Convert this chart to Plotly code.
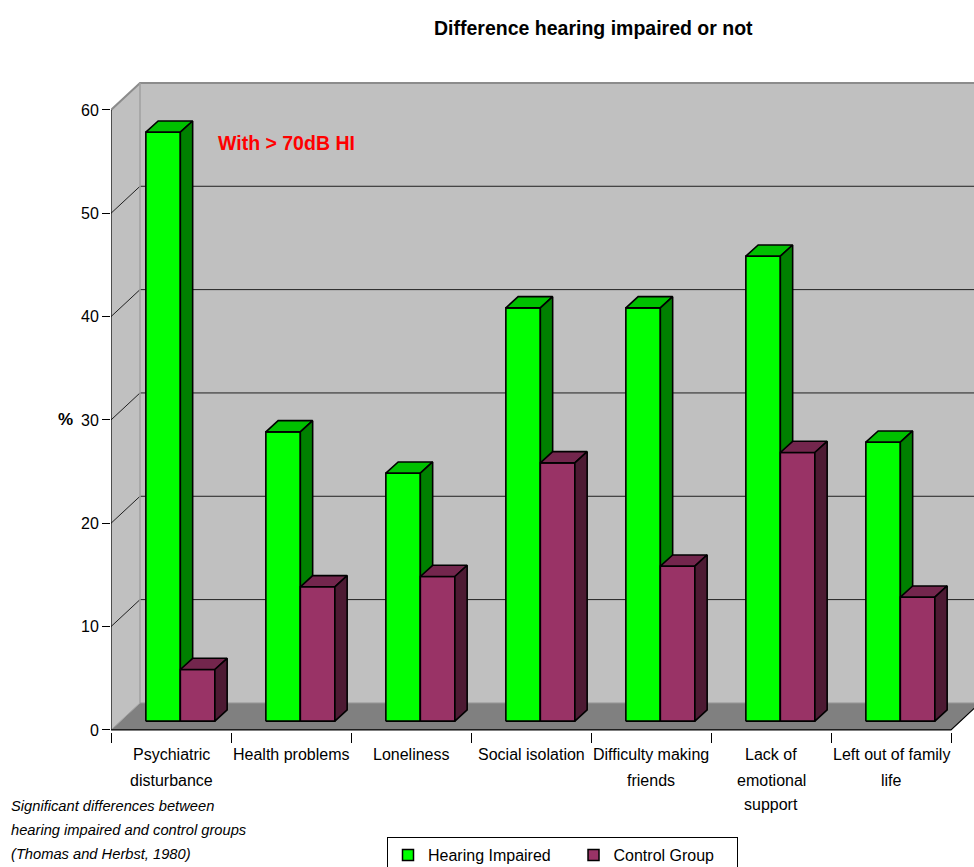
import plotly.graph_objects as go

# ---------------- data ----------------
categories = ["Psychiatric disturbance", "Health problems", "Loneliness",
              "Social isolation", "Difficulty making friends",
              "Lack of emotional support", "Left out of family life"]
category_lines = [["Psychiatric", "disturbance"], ["Health problems"], ["Loneliness"],
                  ["Social isolation"], ["Difficulty making", "friends"],
                  ["Lack of", "emotional", "support"], ["Left out of family", "life"]]
hearing_impaired = [57, 28, 24, 40, 40, 45, 27]
control_group = [5, 13, 14, 25, 15, 26, 12]
y_ticks = [0, 10, 20, 30, 40, 50, 60]
series_names = ["Hearing Impaired", "Control Group"]
footnote = ["Significant differences between",
            "hearing impaired and control groups",
            "(Thomas and Herbst, 1980)"]

# ---------------- geometry / style ----------------
FONT = "Liberation Sans, Arial, sans-serif"
W, H = 974, 867
ML, MR, MT, MB = 111, 0, 80, 135
PW, PH = W - ML - MR, H - MT - MB
X0, X1 = -0.5, -0.5 + PW / 120.0
Y0, Y1 = -0.2, -0.2 + PH / 10.333

DX, DV = 29 / 120.0, 27 / 10.333          # wall depth (oblique)
BDX, BDV = 12.3 / 120.0, 11.2 / 10.333    # bar depth
BASE_V = 0.85                              # bar front plane base
GROUP_OFF = 0.078
BW = 34.5 / 120.0

WALL = "#C0C0C0"
FLOOR = "#808080"
EDGE = "#8C8C8C"
COLS = {"Hearing Impaired": ("#00FF00", "#00C000", "#008000"),
        "Control Group": ("#993366", "#73264D", "#4D1A33")}
LEGEND_PAD = {"Hearing Impaired": 4, "Control Group": 4}

n = len(categories)
xl, xr = -0.5, n - 0.5
vmax = y_ticks[-1]


def px2paper(px):
    return (px - ML) / PW


def py2paper(py):
    return (MT + PH - py) / PH


fig = go.Figure()


def poly(xs, ys, fill, line_color=None, lw=0):
    fig.add_trace(go.Scatter(
        x=list(xs) + [xs[0]], y=list(ys) + [ys[0]], mode="lines", fill="toself",
        fillcolor=fill, line=dict(color=line_color or fill, width=lw),
        hoverinfo="skip", showlegend=False))


def seg(xs, ys, color, width=1):
    fig.add_trace(go.Scatter(x=xs, y=ys, mode="lines",
                             line=dict(color=color, width=width),
                             hoverinfo="skip", showlegend=False))


# legend-only entries
for nm in series_names:
    fig.add_trace(go.Scatter(x=[None], y=[None], mode="markers",
                             name=nm + "\u00a0" * LEGEND_PAD[nm],
                             marker=dict(symbol="square", size=11, color=COLS[nm][0],
                                         line=dict(color="black", width=1.5))))

# walls and floor
poly([xl + DX, xr + DX, xr + DX, xl + DX], [DV, DV, vmax + DV, vmax + DV], WALL)
poly([xl, xl + DX, xl + DX, xl], [0, DV, vmax + DV, vmax], WALL)
poly([xl, xr, xr + DX, xl + DX], [0, 0, DV, DV], FLOOR)

# gridlines
for t in y_ticks[1:-1]:
    seg([xl + DX, xr + DX], [t + DV, t + DV], "#202020", 1)
    seg([xl, xl + DX], [t, t + DV], "#202020", 1)
# wall edges
seg([xl, xl + DX, xr + DX], [vmax, vmax + DV, vmax + DV], EDGE, 2)
seg([xl + DX, xl + DX], [DV, vmax + DV], "#A0A0A0", 1.5)
seg([xl, xl + DX], [0, DV], "#A0A0A0", 1)
seg([xl + DX, xr + DX], [DV, DV], "#999999", 1)
# front axis lines
seg([xl, xl], [0, vmax], "black", 1.2)
seg([xl, xr, xr + DX], [0, 0, DV], "black", 1.2)

# bars
for i in range(n):
    c = i + GROUP_OFF
    for k, (nm, vals) in enumerate(zip(series_names, [hearing_impaired, control_group])):
        front, top, side = COLS[nm]
        a = c - BW + k * BW
        b = a + BW
        v0 = BASE_V
        v1 = BASE_V + vals[i]
        poly([a, b, b, a], [v0, v0, v1, v1], front, "black", 1.6)
        poly([a, b, b + BDX, a + BDX], [v1, v1, v1 + BDV, v1 + BDV], top, "black", 1.6)
        poly([b, b + BDX, b + BDX, b], [v0, v0 + BDV, v1 + BDV, v1], side, "black", 1.6)

annotations = []
# category labels
for i, lines in enumerate(category_lines):
    for j, ln in enumerate(lines):
        annotations.append(dict(x=i, xref="x", y=py2paper(755 + 25 * j), yref="paper",
                                text=ln, showarrow=False, xanchor="center", yanchor="middle",
                                font=dict(family=FONT, size=16, color="black")))
# footnote
for j, ln in enumerate(footnote):
    annotations.append(dict(x=px2paper(9), xref="paper", y=py2paper(805.5 + 24.3 * j), yref="paper",
                            text="<i>" + ln + "</i>", showarrow=False, xanchor="left",
                            yanchor="middle", font=dict(family=FONT, size=14.7, color="black")))
# title
annotations.append(dict(x=px2paper(593), xref="paper", y=py2paper(28), yref="paper",
                        text="<b>Difference hearing impaired or not</b>", showarrow=False,
                        xanchor="center", yanchor="middle",
                        font=dict(family=FONT, size=19.5, color="black")))
# red note
annotations.append(dict(x=px2paper(216), xref="paper", y=py2paper(143), yref="paper",
                        text="<b>With > 70dB HI</b>", showarrow=False, xanchor="left",
                        yanchor="middle", font=dict(family=FONT, size=19.5, color="#FF0000")))
# y title
annotations.append(dict(x=px2paper(65.5), xref="paper", y=30, yref="y",
                        text="<b>%</b>", showarrow=False, xanchor="center", yanchor="middle",
                        font=dict(family=FONT, size=17, color="black")))

fig.update_layout(
    width=W, height=H,
    margin=dict(l=ML, r=MR, t=MT, b=MB, pad=0, autoexpand=False),
    paper_bgcolor="white", plot_bgcolor="white",
    font=dict(family=FONT, size=16, color="black"),
    xaxis=dict(range=[X0, X1], showgrid=False, zeroline=False, showline=False,
               tickvals=[i - 0.5 for i in range(n + 1)], ticktext=[""] * (n + 1),
               ticks="outside", ticklen=10, tickcolor="black", tickwidth=1,
               fixedrange=True),
    yaxis=dict(range=[Y0, Y1], showgrid=False, zeroline=False, showline=False,
               tickvals=y_ticks, ticktext=[str(t) for t in y_ticks],
               ticks="outside", ticklen=8, tickcolor="black", tickwidth=1,
               tickfont=dict(family=FONT, size=16, color="black"), fixedrange=True),
    showlegend=True,
    legend=dict(orientation="h", x=px2paper(387), y=py2paper(837), xanchor="left",
                yanchor="top", bordercolor="black", borderwidth=1, bgcolor="white",
                font=dict(family=FONT, size=16, color="black"), itemwidth=30),
    annotations=annotations,
)

fig.write_html("out.html")
